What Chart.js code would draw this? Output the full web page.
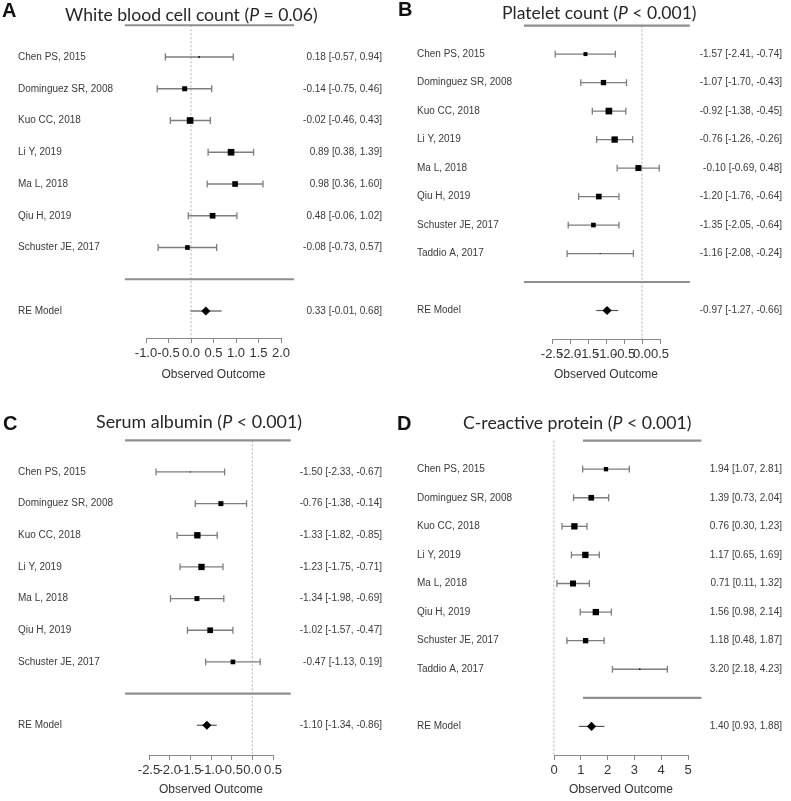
<!DOCTYPE html>
<html>
<head>
<meta charset="utf-8">
<script src="https://cdn.jsdelivr.net/npm/chart.js@4/dist/chart.umd.min.js"></script>
<style>
html, body { margin: 0; padding: 0; background: #fff; }
#wrap { position: relative; width: 791px; height: 801px; overflow: hidden; }
canvas { position: absolute; }
.letter { position: absolute; font: bold 20px "Liberation Sans", Arial, sans-serif; line-height: 20px; color: #111; }
.title { position: absolute; font-family: Lato, sans-serif; color: #262626; white-space: nowrap; }
</style>
</head>
<body>
<div id="wrap">
  <canvas id="cA" width="395" height="400" style="left:0;top:0"></canvas>
  <canvas id="cB" width="396" height="400" style="left:395px;top:0"></canvas>
  <canvas id="cC" width="395" height="401" style="left:0;top:400px"></canvas>
  <canvas id="cD" width="396" height="401" style="left:395px;top:400px"></canvas>
  <div class="letter" style="left:2px;top:0">A</div>
  <div class="letter" style="left:398px;top:-1px">B</div>
  <div class="letter" style="left:3px;top:413px">C</div>
  <div class="letter" style="left:397px;top:413px">D</div>
</div>
<script>
// --- data ---
var studies7 = ["Chen PS, 2015", "Dominguez SR, 2008", "Kuo CC, 2018", "Li Y, 2019",
                "Ma L, 2018", "Qiu H, 2019", "Schuster JE, 2017"];
var studies8 = studies7.concat(["Taddio A, 2017"]);

// A: white blood cell count
var estA = [0.18, -0.14, -0.02, 0.89, 0.98, 0.48, -0.08];
var lowA = [-0.57, -0.75, -0.46, 0.38, 0.36, -0.06, -0.73];
var highA = [0.94, 0.46, 0.43, 1.39, 1.60, 1.02, 0.57];
var weightA = [5, 15, 20, 20, 17, 17, 14];
var modelA = [0.33, -0.01, 0.68];
var ticksA = [-1.0, -0.5, 0.0, 0.5, 1.0, 1.5, 2.0];

// B: platelet count
var estB = [-1.57, -1.07, -0.92, -0.76, -0.10, -1.20, -1.35, -1.16];
var lowB = [-2.41, -1.70, -1.38, -1.26, -0.69, -1.76, -2.05, -2.08];
var highB = [-0.74, -0.43, -0.45, -0.26, 0.48, -0.64, -0.64, -0.24];
var weightB = [12, 16, 20, 19, 18, 17, 14, 3];
var modelB = [-0.97, -1.27, -0.66];
var ticksB = [-2.5, -2.0, -1.5, -1.0, -0.5, 0.0, 0.5];

// C: serum albumin
var estC = [-1.50, -0.76, -1.33, -1.23, -1.34, -1.02, -0.47];
var lowC = [-2.33, -1.38, -1.82, -1.75, -1.98, -1.57, -1.13];
var highC = [-0.67, -0.14, -0.85, -0.71, -0.69, -0.47, 0.19];
var weightC = [3, 15, 19, 19, 15, 17, 14];
var modelC = [-1.10, -1.34, -0.86];
var ticksC = [-2.5, -2.0, -1.5, -1.0, -0.5, 0.0, 0.5];

// D: C-reactive protein
var estD = [1.94, 1.39, 0.76, 1.17, 0.71, 1.56, 1.18, 3.20];
var lowD = [1.07, 0.73, 0.30, 0.65, 0.11, 0.98, 0.48, 2.18];
var highD = [2.81, 2.04, 1.23, 1.69, 1.32, 2.14, 1.87, 4.23];
var weightD = [13, 17, 19, 19, 18, 19, 16, 4];
var modelD = [1.40, 0.93, 1.88];
var ticksD = [0, 1, 2, 3, 4, 5];

var FONT = "Liberation Sans";
var GREY = "#7d7d7d";

function ci(e, l, h) {
  return e.toFixed(2) + " [" + l.toFixed(2) + ", " + h.toFixed(2) + "]";
}

function forest(id, p) {
  var n = p.labels.length;
  var rows = p.labels.map(function (s, i) { return n - i; }).concat([-1]);
  var ds = [];

  // study squares, size by weight
  ds.push({
    data: p.est.map(function (v, i) { return { x: v, y: n - i }; }),
    pointStyle: "rect",
    pointRadius: p.weight.map(function (w) { return w / 3 / Math.SQRT2; }),
    backgroundColor: "#000", pointBorderWidth: 0, order: 0, clip: false
  });
  // summary diamond
  ds.push({
    data: [{ x: p.model[0], y: -1 }],
    pointStyle: "rectRot", pointRadius: 4.6,
    backgroundColor: "#000", pointBorderWidth: 0, order: 0, clip: false
  });
  // confidence intervals with end caps
  p.est.forEach(function (v, i) {
    ds.push({
      data: [{ x: p.low[i], y: n - i }, { x: p.high[i], y: n - i }],
      showLine: true, borderColor: GREY, borderWidth: 1.3,
      pointStyle: "line", pointRotation: 90, pointRadius: 3.4,
      pointBorderColor: GREY, pointBorderWidth: 1.3, order: 1, clip: false
    });
  });
  ds.push({
    data: [{ x: p.model[1], y: -1 }, { x: p.model[2], y: -1 }],
    showLine: true, borderColor: "#555", borderWidth: 1.2, pointRadius: 0, order: 1, clip: false
  });
  // top rule, separator and reference line
  [n + 1, 0].forEach(function (yy) {
    ds.push({
      data: [{ x: p.rule[0], y: yy }, { x: p.rule[1], y: yy }],
      showLine: true, borderColor: "#8f8f8f", borderWidth: 2.2, pointRadius: 0, order: 2, clip: false
    });
  });
  ds.push({
    data: [{ x: 0, y: n + 1 }, { x: 0, y: p.yMin }],
    showLine: true, borderColor: "#b0b0b0", borderWidth: 1, borderDash: [2, 2],
    pointRadius: 0, order: 3, clip: false
  });

  var rowTicks = function (s) { s.ticks = rows.map(function (v) { return { value: v }; }); };

  new Chart(document.getElementById(id), {
    type: "scatter",
    data: { datasets: ds },
    options: {
      responsive: false,
      animation: false,
      layout: { padding: { left: p.padL, right: p.padR, top: p.padT, bottom: p.padB } },
      plugins: { legend: { display: false }, tooltip: { enabled: false } },
      scales: {
        x: {
          type: "linear",
          min: p.ticks[0], max: p.ticks[p.ticks.length - 1],
          afterBuildTicks: function (s) { s.ticks = p.ticks.map(function (v) { return { value: v }; }); },
          afterFit: function (s) { s.height = p.xH; },
          ticks: {
            autoSkip: false, maxRotation: 0, minRotation: 0, padding: 3, color: "#333",
            font: { family: FONT, size: 13 },
            callback: function (v) { return v.toFixed(p.dec); }
          },
          grid: { display: true, drawOnChartArea: false, drawTicks: true, tickLength: 5, color: "#888" },
          border: { display: true, color: "#888" },
          title: {
            display: true, text: "Observed Outcome", color: "#333",
            font: { family: FONT, size: 12 }, padding: { top: 4, bottom: 4 }
          }
        },
        y: {
          type: "linear", position: "left", min: p.yMin, max: n + 1,
          afterBuildTicks: rowTicks,
          afterFit: function (s) { s.width = p.axisL; },
          ticks: {
            autoSkip: false, crossAlign: "far", padding: 0, color: "#3a3a3a",
            font: { family: FONT, size: 10 },
            callback: function (v) { return v === -1 ? "RE Model" : p.labels[n - v]; }
          },
          grid: { display: false }, border: { display: false }
        },
        yR: {
          axis: "y", type: "linear", position: "right", min: p.yMin, max: n + 1,
          afterBuildTicks: rowTicks,
          afterFit: function (s) { s.width = p.axisR; },
          ticks: {
            autoSkip: false, crossAlign: "far", padding: 0, color: "#3a3a3a",
            font: { family: FONT, size: 10 },
            callback: function (v) {
              if (v === -1) return ci(p.model[0], p.model[1], p.model[2]);
              var i = n - v;
              return ci(p.est[i], p.low[i], p.high[i]);
            }
          },
          grid: { display: false }, border: { display: false }
        }
      }
    }
  });
}

forest("cA", { labels: studies7, est: estA, low: lowA, high: highA, weight: weightA, model: modelA,
  ticks: ticksA, dec: 1, rule: [-1.47, 2.29], yMin: -1.85,
  padL: 18, axisL: 128, axisR: 101, padR: 13, padT: 25.25, padB: 13.8, xH: 48.2 });
forest("cB", { labels: studies8, est: estB, low: lowB, high: highB, weight: weightB, model: modelB,
  ticks: ticksB, dec: 1, rule: [-3.28, 1.33], yMin: -2,
  padL: 22, axisL: 135, axisR: 122, padR: 9, padT: 25.6, padB: 13.8, xH: 47.2 });
forest("cC", { labels: studies7, est: estC, low: lowC, high: highC, weight: weightC, model: modelC,
  ticks: ticksC, dec: 1, rule: [-3.08, 0.93], yMin: -1.94,
  padL: 18, axisL: 131, axisR: 109, padR: 13, padT: 40.3, padB: 0, xH: 46 });
forest("cD", { labels: studies8, est: estD, low: lowD, high: highD, weight: weightD, model: modelD,
  ticks: ticksD, dec: 0, rule: [1.08, 5.5], yMin: -2,
  padL: 22, axisL: 137, axisR: 94, padR: 9, padT: 40.6, padB: 0, xH: 46 });

// panel titles, fitted to the width they take in the figure
var titles = [
  { html: "White blood cell count (<i>P</i> = 0.06)", cx: 191.5, base: 21.7, w: 253 },
  { html: "Platelet count (<i>P</i> &lt; 0.001)", cx: 599.5, base: 20, w: 195 },
  { html: "Serum albumin (<i>P</i> &lt; 0.001)", cx: 199, base: 429.3, w: 206 },
  { html: "C-reactive protein (<i>P</i> &lt; 0.001)", cx: 577.5, base: 429.3, w: 229 }
];
titles.forEach(function (t) {
  var d = document.createElement("div");
  d.className = "title";
  d.innerHTML = t.html;
  d.style.fontSize = "19px";
  document.getElementById("wrap").appendChild(d);
  var s = 19 * t.w / d.offsetWidth;
  d.style.fontSize = s + "px";
  d.style.lineHeight = s + "px";
  d.style.left = (t.cx - d.offsetWidth / 2) + "px";
  d.style.top = (t.base - 0.887 * s) + "px";
});
</script>
</body>
</html>
